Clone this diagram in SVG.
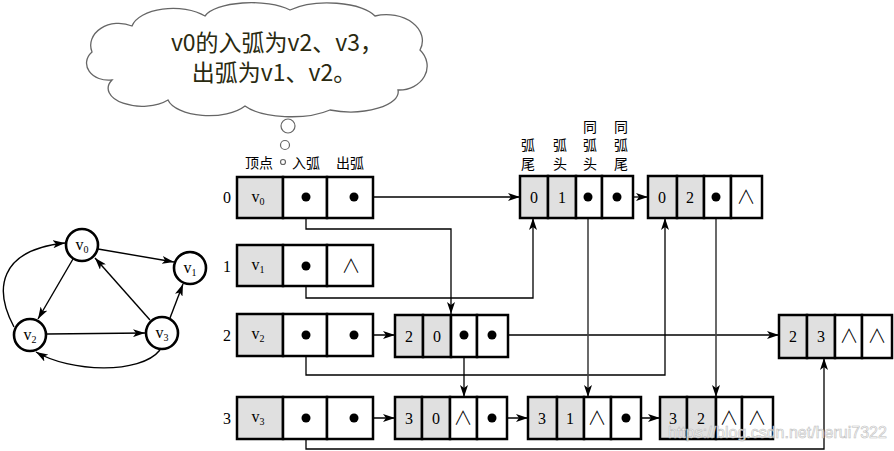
<svg xmlns="http://www.w3.org/2000/svg" width="894" height="451" viewBox="0 0 894 451">
<style>
.c{fill:#fff;stroke:#000;stroke-width:2.5}
.g{fill:#e0e0e0;stroke:#000;stroke-width:2.5}
.t{font-family:"Liberation Serif",serif;font-size:16px;text-anchor:middle;fill:#000}
.w{font-family:"Noto Sans CJK SC","DejaVu Sans",sans-serif;font-size:19px;font-weight:300;text-anchor:middle;fill:#000}
.s{font-size:10px}
.h{font-family:"Noto Sans CJK SC",sans-serif;font-size:14px;text-anchor:middle;fill:#000}
.dot{fill:#000}
.ln{fill:none;stroke:#000;stroke-width:1.3}
.ln2{fill:none;stroke:#444;stroke-width:1.6}
.gn{fill:#fff;stroke:#000;stroke-width:2.6}
.ge{fill:none;stroke:#000;stroke-width:1.4}
</style>
<defs>
<marker id="ah" viewBox="0 0 12 8" refX="12" refY="4" markerWidth="12" markerHeight="8" orient="auto" markerUnits="userSpaceOnUse"><path d="M0,0 L12,4 L0,8 L3,4 z" fill="#000"/></marker>
</defs>
<rect width="894" height="451" fill="#fff"/>

<g id="cloud">
<path d="M112,80 A22,17 0 0 1 92,52 A28,22 0 0 1 132,26 A42,22 0 0 1 205,16 A48,18 0 0 1 290,10 A50,20 0 0 1 375,16 A36,26 0 0 1 420,50 A28,24 0 0 1 398,90 A48,20 0 0 1 330,110 A52,20 0 0 1 245,106 A42,20 0 0 1 168,100 A34,18 0 0 1 112,80 Z" fill="#fff" stroke="#666" stroke-width="1.3"/>
<circle cx="288" cy="126" r="7" fill="#fff" stroke="#666" stroke-width="1.2"/>
<circle cx="285" cy="145" r="4.5" fill="#fff" stroke="#666" stroke-width="1.2"/>
<circle cx="283" cy="162" r="2.5" fill="#fff" stroke="#666" stroke-width="1.2"/>
<text x="277" y="51" font-family="'Noto Sans CJK SC',sans-serif" font-size="23" text-anchor="middle" fill="#2a2a10">v0的入弧为v2、v3，</text>
<text x="274" y="81" font-family="'Noto Sans CJK SC',sans-serif" font-size="23" text-anchor="middle" fill="#2a2a10">出弧为v1、v2。</text>
</g>

<g id="graph">
<path class="ge" d="M98,249 L174,262" marker-end="url(#ah)"/>
<path class="ge" d="M73,259 L38,319" marker-end="url(#ah)"/>
<path class="ge" d="M47,334 L145,333" marker-end="url(#ah)"/>
<path class="ge" d="M150,320 L95,258" marker-end="url(#ah)"/>
<path class="ge" d="M170,318 L183,284" marker-end="url(#ah)"/>
<path class="ge" d="M14,327 C-6,290 -2,250 65,243" marker-end="url(#ah)"/>
<path class="ge" d="M160,350 C140,375 70,372 36,352" marker-end="url(#ah)"/>
<g id="gv0"><circle class="gn" cx="82" cy="245" r="16"/><text class="t" x="82" y="250">v<tspan class="s" dy="3">0</tspan></text></g>
<g id="gv1"><circle class="gn" cx="190" cy="268" r="16"/><text class="t" x="190" y="273">v<tspan class="s" dy="3">1</tspan></text></g>
<g id="gv2"><circle class="gn" cx="30" cy="335" r="16"/><text class="t" x="30" y="340">v<tspan class="s" dy="3">2</tspan></text></g>
<g id="gv3"><circle class="gn" cx="162" cy="333" r="16"/><text class="t" x="162" y="338">v<tspan class="s" dy="3">3</tspan></text></g>
</g>

<g id="headers">
<text class="h" x="259" y="168">顶点</text>
<text class="h" x="306" y="168">入弧</text>
<text class="h" x="350" y="168">出弧</text>
<text class="h" x="528" y="150">弧</text><text class="h" x="528" y="169">尾</text>
<text class="h" x="560" y="150">弧</text><text class="h" x="560" y="169">头</text>
<text class="h" x="590" y="132">同</text><text class="h" x="590" y="150">弧</text><text class="h" x="590" y="169">头</text>
<text class="h" x="621" y="132">同</text><text class="h" x="621" y="150">弧</text><text class="h" x="621" y="169">尾</text>
</g>

<g id="connectors">
<path class="ln" d="M354,197 H520" marker-end="url(#ah)"/>
<path class="ln" d="M306,197 V229 H451 V314" marker-end="url(#ah)"/>
<path class="ln" d="M306,266 V298 H533 V218" marker-end="url(#ah)"/>
<path class="ln" d="M354,335 H395" marker-end="url(#ah)"/>
<path class="ln" d="M306,335 V375 H665 V218" marker-end="url(#ah)"/>
<path class="ln" d="M464,335 V397" marker-end="url(#ah)"/>
<path class="ln" d="M492,335 H779" marker-end="url(#ah)"/>
<path class="ln" d="M354,418 H395" marker-end="url(#ah)"/>
<path class="ln" d="M306,418 V449 H824 V358" marker-end="url(#ah)"/>
<path class="ln" d="M492,418 H528" marker-end="url(#ah)"/>
<path class="ln" d="M626,418 H660" marker-end="url(#ah)"/>
<path class="ln2" d="M588,197 V397" marker-end="url(#ah)"/>
<path class="ln" d="M617,197 H648" marker-end="url(#ah)"/>
<path class="ln2" d="M716,197 V397" marker-end="url(#ah)"/>
</g>

<g id="vertex0">
<text class="t" x="227" y="203">0</text>
<rect class="g" x="237" y="177" width="46" height="41"/><rect class="c" x="283" y="177" width="44" height="41"/><rect class="c" x="327" y="177" width="46" height="41"/>
<text class="t" x="258" y="202" font-size="15">v<tspan class="s" dy="3">0</tspan></text>
<circle class="dot" cx="306" cy="197" r="4.5"/><circle class="dot" cx="354" cy="197" r="4.5"/>
</g>
<g id="vertex1">
<text class="t" x="227" y="272">1</text>
<rect class="g" x="237" y="245" width="46" height="41"/><rect class="c" x="283" y="245" width="44" height="41"/><rect class="c" x="327" y="245" width="46" height="41"/>
<text class="t" x="258" y="270" font-size="15">v<tspan class="s" dy="3">1</tspan></text>
<circle class="dot" cx="306" cy="266" r="4.5"/>
<text class="w" x="351" y="273">∧</text>
</g>
<g id="vertex2">
<text class="t" x="227" y="341">2</text>
<rect class="g" x="237" y="314" width="46" height="42"/><rect class="c" x="283" y="314" width="44" height="42"/><rect class="c" x="327" y="314" width="46" height="42"/>
<text class="t" x="258" y="339" font-size="15">v<tspan class="s" dy="3">2</tspan></text>
<circle class="dot" cx="306" cy="335" r="4.5"/><circle class="dot" cx="354" cy="335" r="4.5"/>
</g>
<g id="vertex3">
<text class="t" x="227" y="424">3</text>
<rect class="g" x="237" y="397" width="46" height="42"/><rect class="c" x="283" y="397" width="44" height="42"/><rect class="c" x="327" y="397" width="46" height="42"/>
<text class="t" x="258" y="422" font-size="15">v<tspan class="s" dy="3">3</tspan></text>
<circle class="dot" cx="306" cy="418" r="4.5"/><circle class="dot" cx="354" cy="418" r="4.5"/>
</g>

<g id="arc01">
<rect class="g" x="520" y="176" width="28" height="42"/><rect class="g" x="548" y="176" width="28" height="42"/><rect class="c" x="576" y="176" width="26" height="42"/><rect class="c" x="602" y="176" width="31" height="42"/>
<text class="t" x="534" y="203">0</text><text class="t" x="562" y="203">1</text>
<circle class="dot" cx="588" cy="197" r="4.5"/><circle class="dot" cx="617" cy="197" r="4.5"/>
</g>
<g id="arc02">
<rect class="g" x="648" y="176" width="29" height="42"/><rect class="g" x="677" y="176" width="27" height="42"/><rect class="c" x="704" y="176" width="27" height="42"/><rect class="c" x="731" y="176" width="31" height="42"/>
<text class="t" x="662" y="203">0</text><text class="t" x="690" y="203">2</text>
<circle class="dot" cx="716" cy="197" r="4.5"/>
<text class="w" x="746" y="204">∧</text>
</g>
<g id="arc20">
<rect class="g" x="395" y="315" width="28" height="42"/><rect class="g" x="423" y="315" width="28" height="42"/><rect class="c" x="451" y="315" width="26" height="42"/><rect class="c" x="477" y="315" width="31" height="42"/>
<text class="t" x="409" y="342">2</text><text class="t" x="437" y="342">0</text>
<circle class="dot" cx="464" cy="335" r="4.5"/><circle class="dot" cx="492" cy="335" r="4.5"/>
</g>
<g id="arc23">
<rect class="g" x="779" y="315" width="28" height="43"/><rect class="g" x="807" y="315" width="28" height="43"/><rect class="c" x="835" y="315" width="27" height="43"/><rect class="c" x="862" y="315" width="30" height="43"/>
<text class="t" x="793" y="342">2</text><text class="t" x="821" y="342">3</text>
<text class="w" x="849" y="343">∧</text><text class="w" x="877" y="343">∧</text>
</g>
<g id="arc30">
<rect class="g" x="395" y="397" width="27" height="42"/><rect class="g" x="422" y="397" width="28" height="42"/><rect class="c" x="450" y="397" width="27" height="42"/><rect class="c" x="477" y="397" width="30" height="42"/>
<text class="t" x="409" y="424">3</text><text class="t" x="436" y="424">0</text>
<text class="w" x="463" y="425">∧</text>
<circle class="dot" cx="492" cy="418" r="4.5"/>
</g>
<g id="arc31">
<rect class="g" x="528" y="397" width="29" height="42"/><rect class="g" x="557" y="397" width="27" height="42"/><rect class="c" x="584" y="397" width="27" height="42"/><rect class="c" x="611" y="397" width="30" height="42"/>
<text class="t" x="542" y="424">3</text><text class="t" x="570" y="424">1</text>
<text class="w" x="597" y="425">∧</text>
<circle class="dot" cx="626" cy="418" r="4.5"/>
</g>
<g id="arc32">
<rect class="g" x="660" y="397" width="27" height="42"/><rect class="g" x="687" y="397" width="29" height="42"/><rect class="c" x="716" y="397" width="26" height="42"/><rect class="c" x="742" y="397" width="31" height="42"/>
<text class="t" x="673" y="424">3</text><text class="t" x="701" y="424">2</text>
<text class="w" x="729" y="425">∧</text><text class="w" x="757" y="425">∧</text>
</g>

<text x="668" y="438" font-family="'Liberation Sans',sans-serif" font-size="16" fill="#fff" stroke="#b8b8b8" stroke-width="0.6" opacity="0.9">https://blog.csdn.net/herui7322</text>
</svg>
